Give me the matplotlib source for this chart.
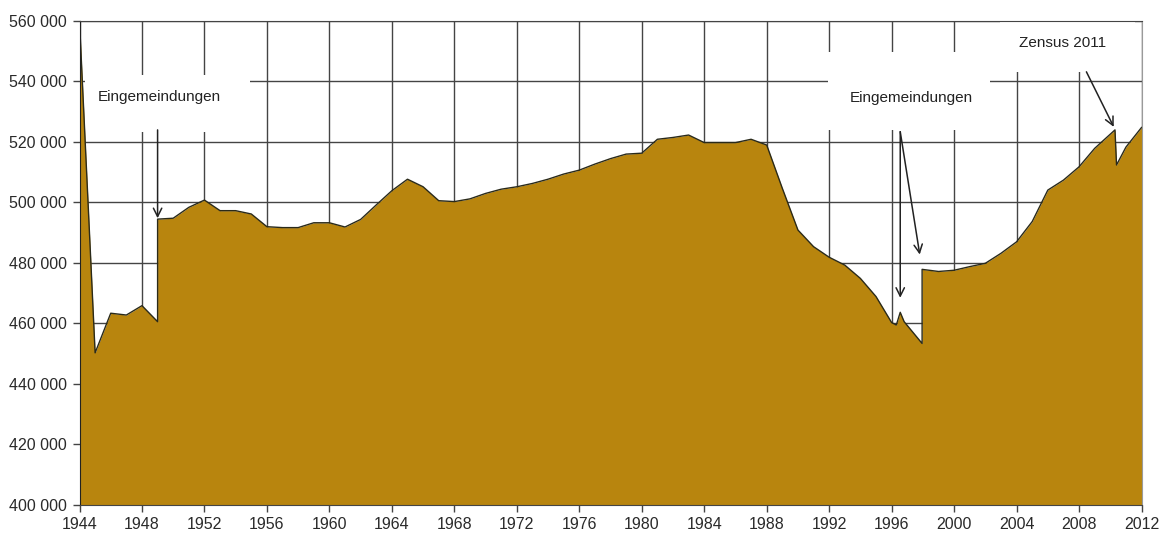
import matplotlib
matplotlib.use("Agg")
import matplotlib.pyplot as plt
from matplotlib.patches import Rectangle
from matplotlib.ticker import FuncFormatter

# ---- data ----
years = [1944, 1945, 1946, 1947, 1948, 1949, 1949, 1950, 1951, 1952,
         1953, 1954, 1955, 1956, 1957, 1958, 1959, 1960, 1961, 1962,
         1963, 1964, 1965, 1966, 1967, 1968, 1969, 1970, 1971, 1972,
         1973, 1974, 1975, 1976, 1977, 1978, 1979, 1980, 1981, 1982,
         1983, 1984, 1985, 1986, 1987, 1988, 1989, 1990, 1991, 1992,
         1993, 1994, 1995, 1996, 1996.3, 1996.55, 1996.8, 1997.95, 1997.95, 1999,
         2000, 2001, 2002, 2003, 2004, 2005, 2006, 2007, 2008, 2009,
         2010.3, 2010.4, 2011, 2012]
population = [560000, 450300, 463400, 462800, 465900, 460600, 494500, 494800, 498400, 500800,
              497300, 497300, 496200, 492000, 491700, 491700, 493300, 493300, 491900, 494400,
              499200, 503900, 507700, 505200, 500600, 500300, 501200, 503000, 504400, 505200,
              506300, 507700, 509400, 510700, 512700, 514500, 516000, 516300, 520900, 521500,
              522300, 519800, 519800, 519800, 520900, 519000, 504700, 490900, 485400, 481900,
              479300, 474900, 468900, 460300, 459500, 463700, 460600, 453400, 477900, 477200,
              477600, 478800, 479900, 483200, 487000, 493700, 504100, 507400, 511800, 517900,
              524000, 512400, 518300, 524800]

x_ticks = list(range(1944, 2013, 4))
y_ticks = list(range(400000, 560001, 20000))

# label texts, label centres, arrow start, arrow targets (year, value)
labels = ["Eingemeindungen", "Eingemeindungen", "Zensus 2011"]
label_pos = [(1949.1, 534900), (1997.25, 534400), (2006.95, 552700)]
arrow_start = [(1949.0, 524000), (1996.55, 523400), (2008.47, 543200)]
arrow_targets = [[(1949.0, 494800)],
                 [(1996.55, 468500), (1997.8, 482800)],
                 [(2010.22, 525000)]]
# white boxes behind labels (axes fraction: x0, y0, width, height)
label_boxes = [(0.005, 0.771, 0.156, 0.118),
               (0.705, 0.775, 0.152, 0.161),
               (0.867, 0.895, 0.127, 0.105)]

FILL = "#B8850E"
plt.rcParams["font.family"] = ["Liberation Sans Narrow", "Liberation Sans", "DejaVu Sans"]

fig = plt.figure(figsize=(11.64, 5.44), dpi=100)
ax = fig.add_axes([0.0683, 0.0717, 0.9124, 0.8897])

ax.set_xlim(1944, 2012)
ax.set_ylim(400000, 560000)

ax.fill_between(years, population, 400000, color=FILL, zorder=3, linewidth=0)
ax.plot(years, population, color="#2a2a1a", lw=1.0, zorder=4)

ax.set_xticks(x_ticks)
ax.set_yticks(y_ticks)
ax.yaxis.set_major_formatter(FuncFormatter(lambda v, p: f"{int(v):,}".replace(",", " ")))
ax.grid(True, color="#444444", lw=1.0)
ax.set_axisbelow(True)

ax.spines["top"].set_color("#444444")
ax.spines["right"].set_color("#9a9a9a")
ax.spines["left"].set_color("#222222")
ax.spines["bottom"].set_color("#444444")
for s in ax.spines.values():
    s.set_zorder(6)
ax.tick_params(axis="both", direction="out", length=5, width=1, color="#444444",
               labelsize=11.5, labelcolor="#2a2a2a", pad=4)

for box in label_boxes:
    ax.add_patch(Rectangle(box[:2], box[2], box[3], transform=ax.transAxes,
                           facecolor="white", edgecolor="none", zorder=1))

for text, pos, start, targets in zip(labels, label_pos, arrow_start, arrow_targets):
    ax.text(pos[0], pos[1], text, ha="center", va="center", fontsize=11,
            color="#222222", zorder=5)
    for t in targets:
        ax.annotate("", xy=t, xytext=start,
                    arrowprops=dict(arrowstyle="->,head_length=0.6,head_width=0.3",
                                    color="#222222", lw=1.1, shrinkA=0, shrinkB=0),
                    zorder=5)

fig.savefig("out.png", dpi=100)
